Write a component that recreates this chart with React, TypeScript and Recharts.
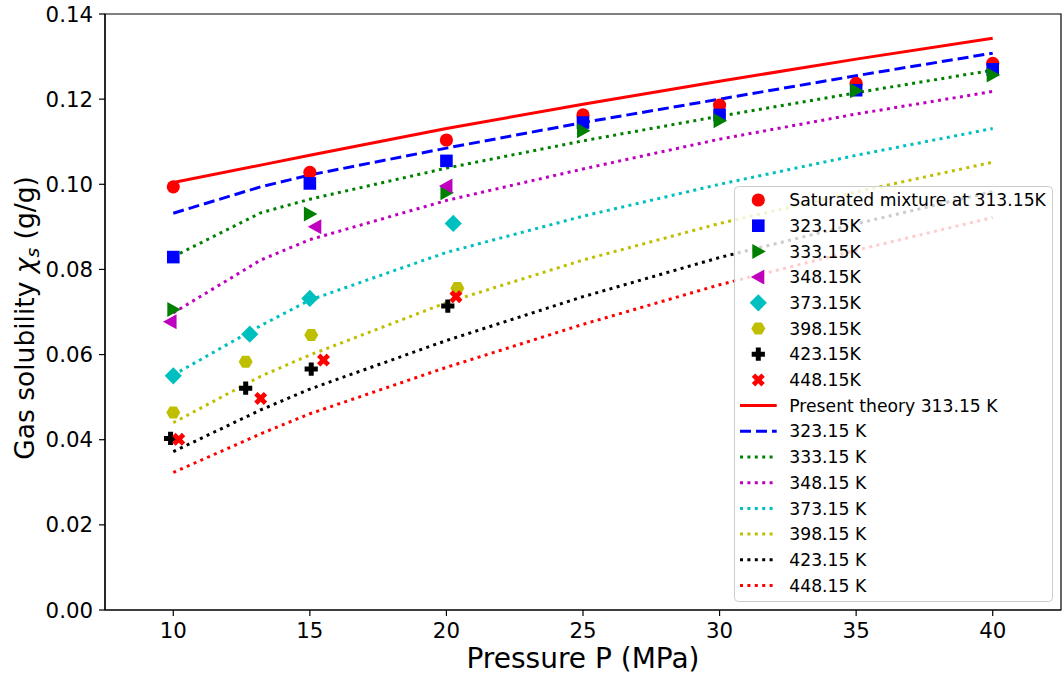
import React from 'react';
import { ComposedChart, Line, Scatter, XAxis, YAxis, Legend, ReferenceArea } from 'recharts';

const FONT = "'DejaVu Sans', 'Noto Sans', sans-serif";

// Axis ticks
const PRESSURE_TICKS = [10, 15, 20, 25, 30, 35, 40];
const SOLUBILITY_TICKS = [0, 0.02, 0.04, 0.06, 0.08, 0.1, 0.12, 0.14];
const X_DOMAIN = [7.5, 42.5];
const Y_DOMAIN = [0, 0.14];

// Experimental data (pressure MPa, solubility g/g)
const EXP_P_313 = [10, 15, 20, 25, 30, 35, 40];
const EXP_V_313 = [0.0994, 0.1028, 0.1104, 0.1163, 0.1186, 0.1237, 0.1284];
const EXP_P_323 = [10, 15, 20, 25, 30, 35, 40];
const EXP_V_323 = [0.0829, 0.1002, 0.1055, 0.1145, 0.1163, 0.1221, 0.127];
const EXP_P_333 = [10, 15, 20, 25, 30, 35, 40];
const EXP_V_333 = [0.0706, 0.093, 0.098, 0.1126, 0.1149, 0.122, 0.1257];
const EXP_P_348 = [9.9, 15.2, 20];
const EXP_V_348 = [0.0677, 0.09, 0.0996];
const EXP_P_373 = [10, 12.8, 15, 20.25];
const EXP_V_373 = [0.055, 0.0648, 0.0732, 0.0908];
const EXP_P_398 = [10, 12.65, 15.05, 20.4];
const EXP_V_398 = [0.0464, 0.0583, 0.0646, 0.0756];
const EXP_P_423 = [9.9, 12.65, 15.05, 20.05];
const EXP_V_423 = [0.0403, 0.0521, 0.0566, 0.0714];
const EXP_P_448 = [10.2, 13.2, 15.5, 20.35];
const EXP_V_448 = [0.0401, 0.0497, 0.0587, 0.0736];

// Theory curves
const THEORY_P = [10, 13.2, 15, 20, 25, 30, 35, 40];
const TH_313 = [0.1004, 0.1045, 0.1068, 0.1131, 0.1188, 0.1242, 0.1294, 0.1343];
const TH_323 = [0.0932, 0.0994, 0.1022, 0.1085, 0.1145, 0.12, 0.1255, 0.1308];
const TH_333 = [0.083, 0.0933, 0.0965, 0.1038, 0.1102, 0.116, 0.1215, 0.1268];
const TH_348 = [0.0698, 0.0822, 0.087, 0.0962, 0.1036, 0.1106, 0.1165, 0.1218];
const TH_373 = [0.0552, 0.0668, 0.0728, 0.084, 0.0925, 0.1, 0.1068, 0.1131];
const TH_398 = [0.044, 0.0549, 0.0599, 0.0722, 0.0822, 0.0908, 0.0982, 0.1052];
const TH_423 = [0.0372, 0.047, 0.0519, 0.0633, 0.0736, 0.0828, 0.0907, 0.0983];
const TH_448 = [0.0323, 0.0414, 0.0461, 0.057, 0.0671, 0.0764, 0.0845, 0.0922];

const EXP_LABELS = ['Saturated mixture at 313.15K', '323.15K', '333.15K', '348.15K', '373.15K', '398.15K', '423.15K', '448.15K'];
const THEORY_LABELS = ['Present theory 313.15 K', '323.15 K', '333.15 K', '348.15 K', '373.15 K', '398.15 K', '423.15 K', '448.15 K'];

const COLORS = ['#ff0000', '#0000ff', '#008000', '#bf00bf', '#00bfbf', '#bfbf00', '#000000', '#ff0000'];
const MARKERS = ['circle', 'square', 'triRight', 'triLeft', 'diamond', 'hexagon', 'plus', 'xmark'];
const LINE_DASH = ['', '11 5', '3 4.4', '3 4.4', '3 4.4', '3 4.4', '3 4.4', '3 4.4'];

const EXP_P = [EXP_P_313, EXP_P_323, EXP_P_333, EXP_P_348, EXP_P_373, EXP_P_398, EXP_P_423, EXP_P_448];
const EXP_V = [EXP_V_313, EXP_V_323, EXP_V_333, EXP_V_348, EXP_V_373, EXP_V_398, EXP_V_423, EXP_V_448];
const THEORY_V = [TH_313, TH_323, TH_333, TH_348, TH_373, TH_398, TH_423, TH_448];

const expData = EXP_P.map((ps, i) => ps.map((x, j) => ({ x, y: EXP_V[i][j] })));
const theoryData = THEORY_V.map((vs) => THEORY_P.map((x, j) => ({ x, y: vs[j] })));

function Marker({ cx, cy, kind, color }: { cx: number; cy: number; kind: string; color: string }) {
  if (cx == null || cy == null) return null;
  switch (kind) {
    case 'circle':
      return <circle cx={cx} cy={cy} r={6.6} fill={color} />;
    case 'square':
      return <rect x={cx - 6.3} y={cy - 6.3} width={12.6} height={12.6} fill={color} />;
    case 'triRight':
      return <polygon points={`${cx + 7.5},${cy} ${cx - 6},${cy - 7.5} ${cx - 6},${cy + 7.5}`} fill={color} />;
    case 'triLeft':
      return <polygon points={`${cx - 7.5},${cy} ${cx + 6},${cy - 7.5} ${cx + 6},${cy + 7.5}`} fill={color} />;
    case 'diamond':
      return <polygon points={`${cx},${cy - 8.6} ${cx + 8.6},${cy} ${cx},${cy + 8.6} ${cx - 8.6},${cy}`} fill={color} />;
    case 'hexagon': {
      const r = 7;
      const pts = [0, 1, 2, 3, 4, 5]
        .map((k) => {
          const a = (Math.PI / 3) * k;
          return `${cx + r * Math.cos(a)},${cy + r * Math.sin(a)}`;
        })
        .join(' ');
      return <polygon points={pts} fill={color} />;
    }
    case 'plus': {
      const a = 6.6;
      const t = 2.5;
      const d = `M${cx - t},${cy - a} H${cx + t} V${cy - t} H${cx + a} V${cy + t} H${cx + t} V${cy + a} H${cx - t} V${cy + t} H${cx - a} V${cy - t} H${cx - t} Z`;
      return <path d={d} fill={color} />;
    }
    case 'xmark': {
      const a = 6.8;
      const t = 2.4;
      const d = `M${cx - t},${cy - a} H${cx + t} V${cy - t} H${cx + a} V${cy + t} H${cx + t} V${cy + a} H${cx - t} V${cy + t} H${cx - a} V${cy - t} H${cx - t} Z`;
      return <path d={d} fill={color} transform={`rotate(45 ${cx} ${cy})`} />;
    }
    default:
      return null;
  }
}

const LEG_W = 319;
const LEG_H = 416;
const ROW0 = 14;
const ROW_STEP = 25.7;
const LEG_FONT = 17.2;

function LegendBox() {
  return (
    <svg width={LEG_W} height={LEG_H} style={{ display: 'block' }}>
      <rect x={0.5} y={0.5} width={LEG_W - 1} height={LEG_H - 1} rx={4} ry={4} fill="#ffffff" fillOpacity={0.8} stroke="#cccccc" strokeWidth={1} />
      {EXP_LABELS.map((lab, i) => (
        <g key={'e' + i}>
          <Marker cx={24.3} cy={ROW0 + ROW_STEP * i} kind={MARKERS[i]} color={COLORS[i]} />
          <text x={55.3} y={ROW0 + ROW_STEP * i} dy="0.36em" fontSize={LEG_FONT} fontFamily={FONT} fill="#000">
            {lab}
          </text>
        </g>
      ))}
      {THEORY_LABELS.map((lab, i) => {
        const y = ROW0 + ROW_STEP * (i + 8);
        return (
          <g key={'t' + i}>
            <line x1={6} x2={42.7} y1={y} y2={y} stroke={COLORS[i]} strokeWidth={3} strokeDasharray={LINE_DASH[i] || undefined} />
            <text x={55.3} y={y} dy="0.36em" fontSize={LEG_FONT} fontFamily={FONT} fill="#000">
              {lab}
            </text>
          </g>
        );
      })}
    </svg>
  );
}

export default function App() {
  return (
    <div style={{ position: 'absolute', left: 0, top: 0, width: 1062, height: 675, background: '#ffffff' }}>
      <ComposedChart width={1062} height={675} margin={{ top: 14, right: 1, bottom: 0, left: 0 }}>
        <XAxis
          type="number"
          dataKey="x"
          domain={X_DOMAIN}
          ticks={PRESSURE_TICKS}
          allowDataOverflow
          height={65}
          tickSize={6}
          tickMargin={7}
          stroke="#000"
          strokeWidth={1.2}
          tick={{ fontSize: 21.3, fill: '#000', fontFamily: FONT }}
          label={{
            content: () => (
              <text x={583} y={668} textAnchor="middle" fontSize={28} fontFamily={FONT} fill="#000">
                Pressure P (MPa)
              </text>
            ),
          }}
        />
        <YAxis
          type="number"
          dataKey="y"
          domain={Y_DOMAIN}
          ticks={SOLUBILITY_TICKS}
          allowDataOverflow
          width={105}
          tickSize={6}
          tickMargin={6}
          stroke="#000"
          strokeWidth={1.2}
          tickFormatter={(v: number) => v.toFixed(2)}
          tick={{ fontSize: 21.3, fill: '#000', fontFamily: FONT }}
          label={{
            content: () => (
              <text x={34} y={318} transform="rotate(-90 34 318)" textAnchor="middle" fontSize={26.5} fontFamily={FONT} fill="#000">
                Gas solubility <tspan fontStyle="italic">χ</tspan>
                <tspan fontStyle="italic" fontSize={18.5} dy={5}>s</tspan>
                <tspan dy={-5}> (g/g)</tspan>
              </text>
            ),
          }}
        />
        <ReferenceArea
          x1={X_DOMAIN[0]}
          x2={X_DOMAIN[1]}
          y1={Y_DOMAIN[0]}
          y2={Y_DOMAIN[1]}
          fill="none"
          fillOpacity={0}
          stroke="#000"
          strokeWidth={1.2}
          ifOverflow="visible"
        />
        {expData.map((d, i) => (
          <Scatter
            key={'s' + i}
            name={EXP_LABELS[i]}
            data={d}
            isAnimationActive={false}
            fill={COLORS[i]}
            shape={(p: any) => <Marker cx={p.cx} cy={p.cy} kind={MARKERS[i]} color={COLORS[i]} />}
          />
        ))}
        {theoryData.map((d, i) => (
          <Line
            key={'l' + i}
            name={THEORY_LABELS[i]}
            data={d}
            dataKey="y"
            type="linear"
            stroke={COLORS[i]}
            strokeWidth={3}
            strokeDasharray={LINE_DASH[i] || undefined}
            dot={false}
            activeDot={false}
            isAnimationActive={false}
          />
        ))}
        <Legend
          layout="vertical"
          align="center"
          verticalAlign="middle"
          content={() => <LegendBox />}
          wrapperStyle={{ left: 734, top: 186, width: LEG_W, height: LEG_H, margin: 0, padding: 0 }}
        />
      </ComposedChart>
    </div>
  );
}
